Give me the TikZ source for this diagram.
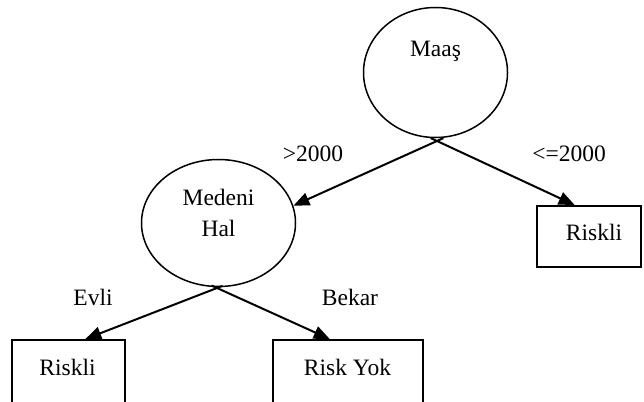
\documentclass[tikz,border=0pt]{standalone}
\usepackage{fontspec}
\setmainfont{Liberation Serif}
\usetikzlibrary{arrows.meta,shapes.geometric,calc}
\begin{document}
\begin{tikzpicture}[x=1pt,y=-1pt,
  every node/.style={font=\fontsize{23.5}{27}\selectfont},
  oval/.style={ellipse,draw,line width=1.5pt,inner sep=0pt},
  leaf/.style={draw,line width=1.8pt,inner sep=0pt},
  edge/.style={line width=2pt,-{Triangle[length=16pt,width=13pt]}},
  tag/.style={inner sep=0pt}]
\useasboundingbox (0,0) rectangle (644,401);
\clip (0,0) rectangle (644,401);

% decision nodes
\node[oval,minimum width=144pt,minimum height=130pt] (maas) at (435.5,72.5) {};
\node[tag] (maasT) at (435.5,51) {Maaş};
\node[oval,minimum width=154pt,minimum height=127pt] (med) at (218.5,223) {};
\node[tag] (medT1) at (218.5,197) {Medeni};
\node[tag] (medT2) at (218.5,228) {Hal};

% leaves
\node[leaf,minimum width=104pt,minimum height=61pt] (r1) at (589,236.5) {};
\node[tag] (r1T) at (594,232) {Riskli};
\node[leaf,minimum width=113pt,minimum height=80pt] (r2) at (68.5,380) {};
\node[tag] (r2T) at (67.5,367) {Riskli};
\node[leaf,minimum width=150pt,minimum height=80pt] (r3) at (348,380) {};
\node[tag] (r3T) at (347.5,367) {Risk Yok};

% branch points and arrow targets
\coordinate (x1) at (437,141);
\coordinate (x2) at (217,288);
\coordinate (tA) at (med.13);
\coordinate (tB) at ($(r1.north west)!0.365!(r1.north east)$);
\coordinate (tC) at ($(r2.north west)!0.646!(r2.north east)$);
\coordinate (tD) at ($(r3.north west)!0.38!(r3.north east)$);

\draw[edge] ($(x1)!-7pt!(tA)$) -- (tA);
\draw[edge] ($(x1)!-7pt!(tB)$) -- (tB);
\draw[edge] ($(x2)!-6pt!(tC)$) -- (tC);
\draw[edge] ($(x2)!-6pt!(tD)$) -- (tD);

% branch labels
\node[tag] (lA) at (313,154) {>2000};
\node[tag] (lB) at (569,154) {<=2000};
\node[tag] (lC) at (93,297) {Evli};
\node[tag] (lD) at (350,297) {Bekar};
\end{tikzpicture}
\end{document}
